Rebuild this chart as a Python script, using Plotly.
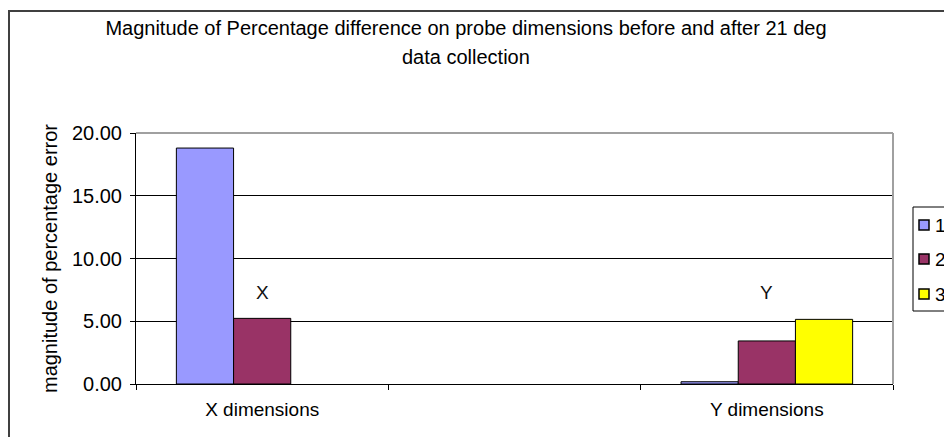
import plotly.graph_objects as go

categories = ["X dimensions", " ", "Y dimensions"]
series_names = ["1", "2", "3"]
series1 = [18.80, None, 0.18]
series2 = [5.23, None, 3.43]
series3 = [None, None, 5.15]
series_colors = ["#9999FF", "#993366", "#FFFF00"]
point_labels = [("X dimensions", 7.3, "X"), ("Y dimensions", 7.3, "Y")]
y_ticks = [0, 5, 10, 15, 20]

# figure pixel frame (page has an 8px body margin)
W, H = 944, 429
L, R, T, B = 128, 885, 125, 376
FONT = "Liberation Sans, Arial, sans-serif"
TXT = 19


def px(x):
    return (x - L) / (R - L)


def py(y):
    return (B - y) / (B - T)


fig = go.Figure()
for name, vals, col in zip(series_names, [series1, series2, series3], series_colors):
    fig.add_trace(go.Bar(
        x=categories, y=vals, name=name, showlegend=False,
        marker=dict(color=col, line=dict(color="black", width=1)),
    ))

for cat, yv, txt in point_labels:
    fig.add_annotation(x=cat, y=yv, text=txt, showarrow=False,
                       font=dict(family=FONT, size=TXT, color="#111"))

# second title line
fig.add_annotation(xref="paper", yref="paper", x=px(458), y=py(49),
                   text="data collection", showarrow=False,
                   font=dict(family=FONT, size=20, color="black"),
                   xanchor="center", yanchor="middle")

# outer chart border (extends beyond the visible window)
fig.add_shape(type="rect", xref="paper", yref="paper",
              x0=px(1), x1=px(1100), y0=py(700), y1=py(3),
              line=dict(color="#404040", width=2), fillcolor="rgba(0,0,0,0)", layer="below")
# plot area border top/right (gray)
fig.add_shape(type="line", xref="paper", yref="paper", x0=0, x1=1, y0=1, y1=1,
              line=dict(color="#a0a0a0", width=2), layer="above")
fig.add_shape(type="line", xref="paper", yref="paper", x0=1, x1=1, y0=0, y1=1,
              line=dict(color="#a0a0a0", width=2), layer="above")

# legend box (drawn by hand so it can be cut by the window edge like the original)
fig.add_shape(type="rect", xref="paper", yref="paper",
              x0=px(905), x1=px(1000), y0=py(303), y1=py(199),
              line=dict(color="black", width=1), fillcolor="white", layer="above")
legend_rows = [217, 251, 286]
for name, col, yc in zip(series_names, series_colors, legend_rows):
    fig.add_shape(type="rect", xref="paper", yref="paper",
                  x0=px(911), x1=px(921), y0=py(yc + 5), y1=py(yc - 5),
                  line=dict(color="black", width=1.5), fillcolor=col, layer="above")
    fig.add_annotation(xref="paper", yref="paper", x=px(925), y=py(yc),
                       text=name, showarrow=False, xanchor="left", yanchor="middle",
                       font=dict(family=FONT, size=TXT, color="black"))

fig.update_layout(
    width=W, height=H,
    margin=dict(l=L, r=W - R, t=T, b=H - B, autoexpand=False),
    paper_bgcolor="white", plot_bgcolor="white",
    font=dict(family=FONT, size=TXT, color="black"),
    title=dict(text="Magnitude of Percentage difference on probe dimensions before and after 21 deg",
               x=458 / W, xanchor="center", xref="container",
               y=1 - 20 / H, yanchor="middle", yref="container",
               font=dict(family=FONT, size=20, color="black")),
    barmode="group", bargap=0.32, bargroupgap=0,
    showlegend=False,
    xaxis=dict(type="category", categoryorder="array", categoryarray=categories,
               showline=True, linecolor="black", linewidth=1,
               ticks="outside", tickson="boundaries", ticklen=5, tickcolor="black",
               showgrid=False, ticklabelstandoff=8,
               tickfont=dict(family=FONT, size=TXT, color="black")),
    yaxis=dict(range=[0, 20], tickvals=y_ticks, tickformat=".2f",
               showline=True, linecolor="black", linewidth=1,
               ticks="outside", ticklen=5, tickcolor="black",
               showgrid=True, gridcolor="black", gridwidth=1,
               zeroline=False, ticklabelstandoff=4,
               tickfont=dict(family=FONT, size=20, color="black"),
               title=dict(text="magnitude of percentage error", standoff=8,
                          font=dict(family=FONT, size=20, color="black"))),
)

fig.write_html("out.html")
